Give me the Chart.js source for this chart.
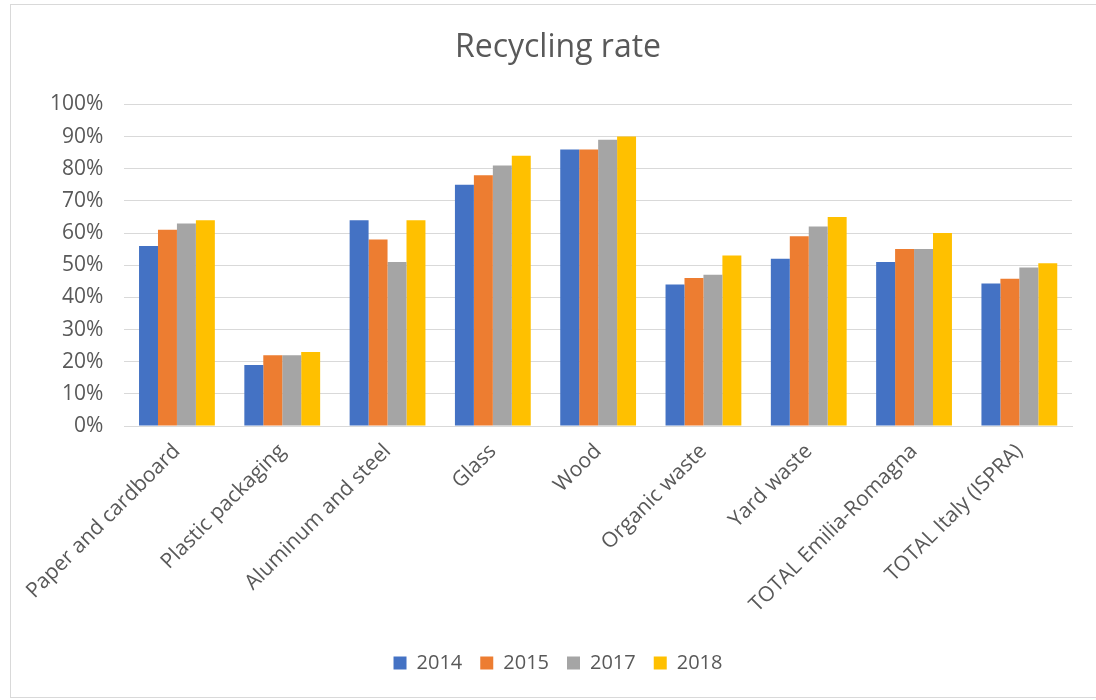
<!DOCTYPE html>
<html><head><meta charset="utf-8">
<script src="https://cdn.jsdelivr.net/npm/chart.js@4/dist/chart.umd.min.js"></script>
<style>
html,body{margin:0;padding:0;background:#fff;}
#wrap{position:absolute;left:10px;top:4px;width:1090px;height:694px;border:1px solid #d9d9d9;box-sizing:border-box;}
canvas{display:block;}
</style></head>
<body>
<div id="wrap"><canvas id="c" width="1088" height="692"></canvas></div>
<script>
const categories = ["Paper and cardboard","Plastic packaging","Aluminum and steel","Glass","Wood","Organic waste","Yard waste","TOTAL Emilia-Romagna","TOTAL Italy (ISPRA)"];
const seriesNames = ["2014","2015","2017","2018"];
const v2014 = [0.56,0.19,0.64,0.75,0.86,0.44,0.52,0.51,0.443];
const v2015 = [0.61,0.22,0.58,0.78,0.86,0.46,0.59,0.55,0.458];
const v2017 = [0.63,0.22,0.51,0.81,0.89,0.47,0.62,0.55,0.493];
const v2018 = [0.64,0.23,0.64,0.84,0.90,0.53,0.65,0.60,0.506];
const yTicks = [0,0.1,0.2,0.3,0.4,0.5,0.6,0.7,0.8,0.9,1.0];
const colors = ["#4472C4","#ED7D31","#A5A5A5","#FFC000"];
const FONT = "'Open Sans', sans-serif";
const txt = "#595959";
const allVals = [v2014,v2015,v2017,v2018];
const BOTTOM_PAD = 14;
const PLOT_BOTTOM = 421;
const LEFT_PAD = 33;
new Chart(document.getElementById('c'), {
  type: 'bar',
  data: {
    labels: categories,
    datasets: seriesNames.map((n,i)=>({label:n,data:allVals[i],backgroundColor:colors[i],borderWidth:0}))
  },
  options: {
    responsive:false, animation:false,
    layout:{padding:{left:LEFT_PAD,right:27,top:8,bottom:BOTTOM_PAD}},
    datasets:{bar:{categoryPercentage:0.72,barPercentage:1}},
    plugins:{
      title:{display:true,text:"Recycling rate",color:txt,font:{family:FONT,size:32,weight:'normal'},padding:{top:16,bottom:37}},
      legend:{position:'bottom',labels:{color:txt,font:{family:FONT,size:20},boxWidth:13,boxHeight:13,padding:18}},
      tooltip:{enabled:false}
    },
    scales:{
      x:{grid:{display:false,drawTicks:false},border:{color:"#d9d9d9"},
         ticks:{color:txt,font:{family:FONT,size:21},maxRotation:45,minRotation:45,padding:13},
         afterFit:(s)=>{const lg=s.chart.legend; const lh=lg?lg.height:50; s.height=692-BOTTOM_PAD-lh-PLOT_BOTTOM;}},
      y:{min:0,max:1,grid:{color:"#d9d9d9",drawTicks:false},border:{display:false},
         afterBuildTicks:(s)=>{s.ticks=yTicks.map(v=>({value:v}));},
         afterFit:(s)=>{s.width=111-LEFT_PAD;},
         ticks:{color:txt,font:{family:FONT,size:21},padding:21,callback:v=>Math.round(v*100)+"%"}}
    }
  }
});
</script>
</body></html>
